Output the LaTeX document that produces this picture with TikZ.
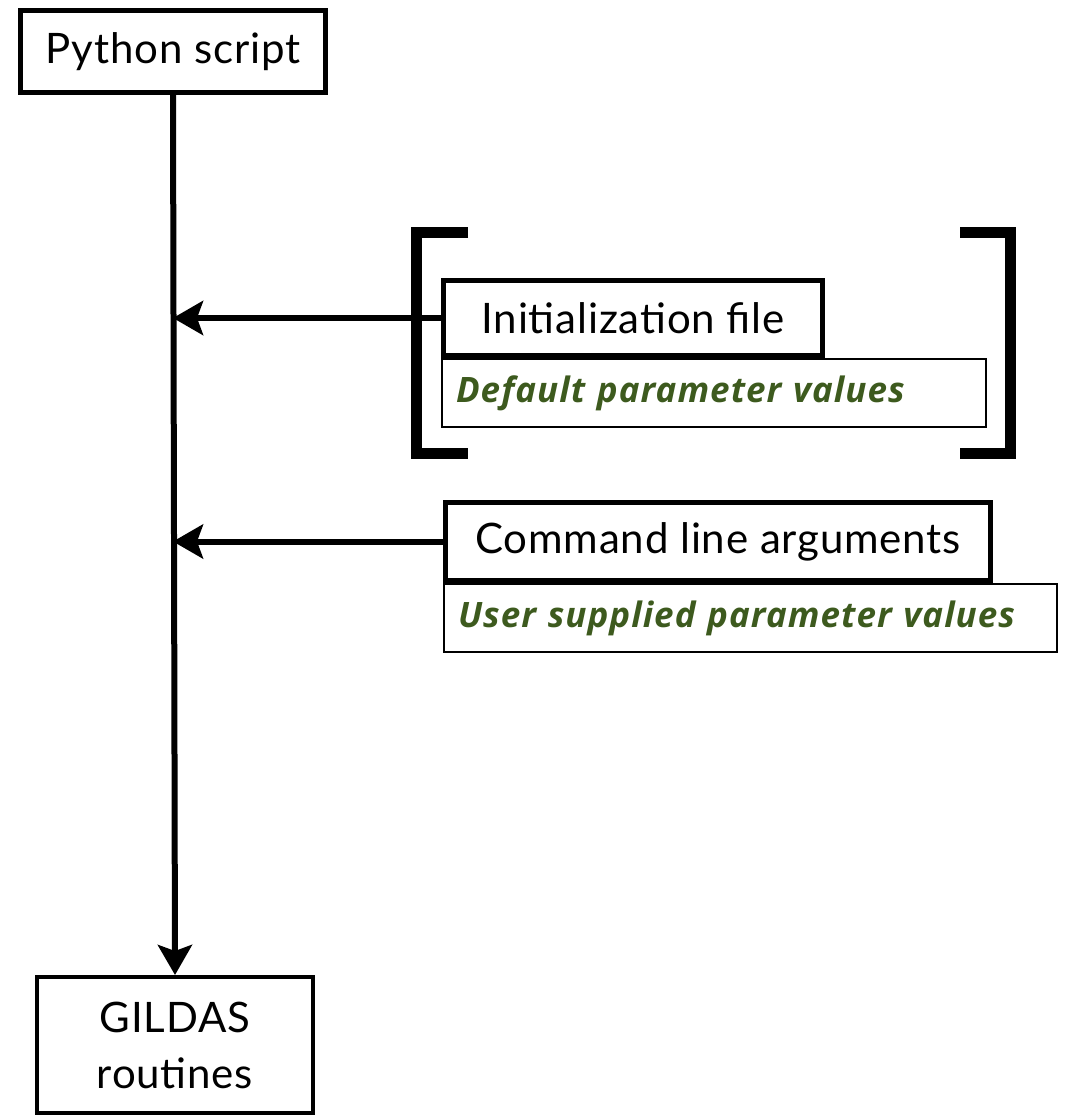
\documentclass[tikz,border=0pt]{standalone}
\usepackage{fontspec}
\setmainfont{Lato}
\newfontfamily\notefont{Open Sans}
\usetikzlibrary{arrows.meta}
\definecolor{dgreen}{RGB}{61,90,30}
\begin{document}
\begin{tikzpicture}[x=1pt,y=-1pt,
  box/.style={draw, rectangle, inner sep=0pt, font=\fontsize{42}{56}\selectfont\addfontfeature{LetterSpace=2}},
  note/.style={draw, rectangle, line width=2pt, inner xsep=14pt, inner ysep=0pt, align=left,
     text=dgreen, font=\notefont\fontsize{35}{40}\selectfont\bfseries\itshape\addfontfeature{LetterSpace=3}},
  arr/.style={line width=6pt, -{Stealth[length=30pt,width=34pt,inset=6pt]}},
  brk/.style={line width=11pt, line join=miter, line cap=butt}]
\useasboundingbox (0,0) rectangle (1066,1117);
\node[box, line width=5pt, minimum width=305pt, minimum height=82pt] (py) at (173,51.5) {Python script};
\node[box, line width=4pt, minimum width=276pt, minimum height=136pt, align=center] (gil) at (175,1045) {GILDAS\\routines};
\node[box, line width=5pt, minimum width=379pt, minimum height=75pt] (init) at (633,318) {Initialization file};
\node[note, text width=516pt, minimum height=68pt] (def) at (714,393) {Default parameter values};
\node[box, line width=5pt, minimum width=545pt, minimum height=78pt] (cmd) at (718,541.5) {Command line arguments};
\node[note, text width=585pt, minimum height=68pt] (usr) at (750.5,618) {User supplied parameter values};
\draw[brk] (468,232) -- (416,232) -- (416,453) -- (468,453);
\draw[brk] (960,232) -- (1010,232) -- (1010,453) -- (960,453);
\draw[arr] (py.south) -- (gil.north);
\draw[arr] (init.west) -- (init.west -| py.south);
\draw[arr] (cmd.west) -- (cmd.west -| py.south);
\end{tikzpicture}
\end{document}
